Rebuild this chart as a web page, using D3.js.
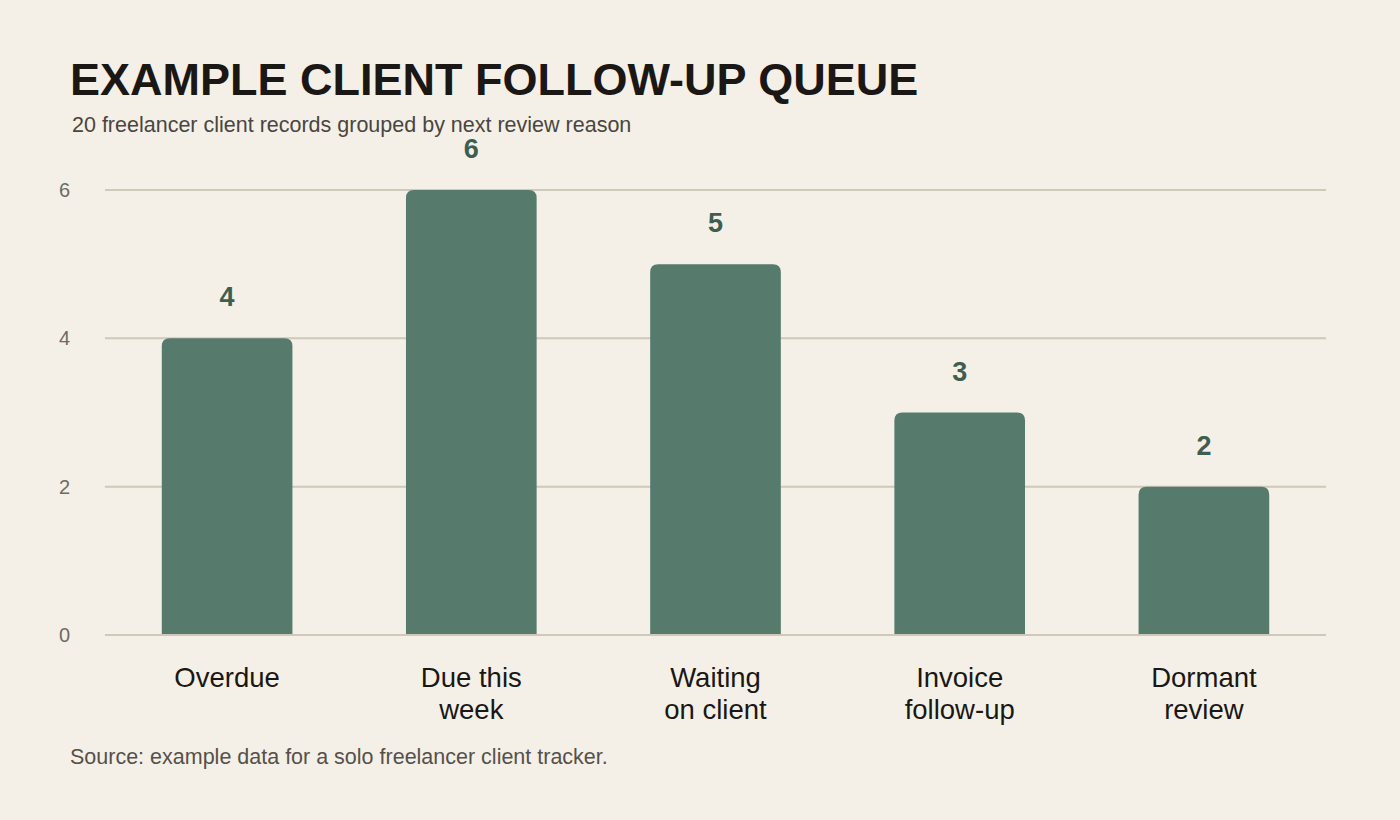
<!DOCTYPE html>
<html>
<head>
<meta charset="utf-8">
<script src="https://cdn.jsdelivr.net/npm/d3@7"></script>
<style>
  html, body { margin: 0; padding: 0; background: #f4f0e8; }
  svg { display: block; font-family: "Liberation Sans", Arial, sans-serif; }
</style>
</head>
<body>
<div id="chart"></div>
<script>
// follow-up queue data
const categories = ["Overdue", "Due this week", "Waiting on client", "Invoice follow-up", "Dormant review"];
const catLines = [["Overdue"], ["Due this", "week"], ["Waiting", "on client"], ["Invoice", "follow-up"], ["Dormant", "review"]];
const counts = [4, 6, 5, 3, 2];
const yTicks = [0, 2, 4, 6];

const W = 1400, H = 820;
const margin = {top: 190, right: 74, bottom: 185, left: 105};
const width = W - margin.left - margin.right,
      height = H - margin.top - margin.bottom;

const svg = d3.select("#chart").append("svg")
  .attr("width", W).attr("height", H);

svg.append("rect").attr("width", W).attr("height", H).attr("fill", "#f4f0e8");

svg.append("text")
  .attr("x", 70).attr("y", 95)
  .attr("font-size", 45).attr("font-weight", "bold")
  .attr("fill", "#1a1714")
  .text("EXAMPLE CLIENT FOLLOW-UP QUEUE");

svg.append("text")
  .attr("x", 72).attr("y", 132)
  .attr("font-size", 21.5).attr("fill", "#4a4540")
  .text("20 freelancer client records grouped by next review reason");

const g = svg.append("g").attr("transform", "translate(" + margin.left + "," + margin.top + ")");

const x = d3.scaleBand().domain(categories).range([0, width]).paddingInner(0.465).paddingOuter(0.2325);
const y = d3.scaleLinear().domain([0, 6]).range([height, 0]);

// gridlines
g.selectAll(".grid").data(yTicks).enter().append("line")
  .attr("x1", 0).attr("x2", width)
  .attr("y1", d => y(d)).attr("y2", d => y(d))
  .attr("stroke", "#d0c8b8").attr("stroke-width", 2);

// y tick labels
g.selectAll(".ytick").data(yTicks).enter().append("text")
  .attr("x", -35).attr("y", d => y(d)).attr("dy", "0.35em")
  .attr("text-anchor", "end")
  .attr("font-size", 20).attr("fill", "#6e6a64")
  .text(d => d);

// bars with rounded top corners
const r = 8;
function barPath(x0, y0, w, h) {
  const rr = Math.min(r, h);
  return "M" + x0 + "," + (y0 + h) +
    "V" + (y0 + rr) +
    "Q" + x0 + "," + y0 + " " + (x0 + rr) + "," + y0 +
    "H" + (x0 + w - rr) +
    "Q" + (x0 + w) + "," + y0 + " " + (x0 + w) + "," + (y0 + rr) +
    "V" + (y0 + h) + "Z";
}
g.selectAll(".bar").data(counts).enter().append("path")
  .attr("d", (d, i) => barPath(x(categories[i]), y(d), x.bandwidth(), y(0) - y(d)))
  .attr("fill", "#567a6c");

// baseline
g.append("line").attr("x1", 0).attr("x2", width)
  .attr("y1", y(0)).attr("y2", y(0))
  .attr("stroke", "#d0c8b8").attr("stroke-width", 2);

// value labels
g.selectAll(".val").data(counts).enter().append("text")
  .attr("x", (d, i) => x(categories[i]) + x.bandwidth() / 2)
  .attr("y", d => y(d) - 32)
  .attr("text-anchor", "middle")
  .attr("font-size", 27).attr("font-weight", "bold").attr("fill", "#3d5e50")
  .text(d => d);

// category labels
const cl = g.selectAll(".cat").data(catLines).enter().append("text")
  .attr("text-anchor", "middle")
  .attr("font-size", 27.5).attr("fill", "#1a1714")
  .attr("transform", (d, i) => "translate(" + (x(categories[i]) + x.bandwidth() / 2) + "," + (height + 52) + ")");
cl.selectAll("tspan").data(d => d).enter().append("tspan")
  .attr("x", 0).attr("y", (d, j) => j * 32)
  .text(d => d);

svg.append("text")
  .attr("x", 70).attr("y", 764)
  .attr("font-size", 21.5).attr("fill", "#55504a")
  .text("Source: example data for a solo freelancer client tracker.");
</script>
</body>
</html>
